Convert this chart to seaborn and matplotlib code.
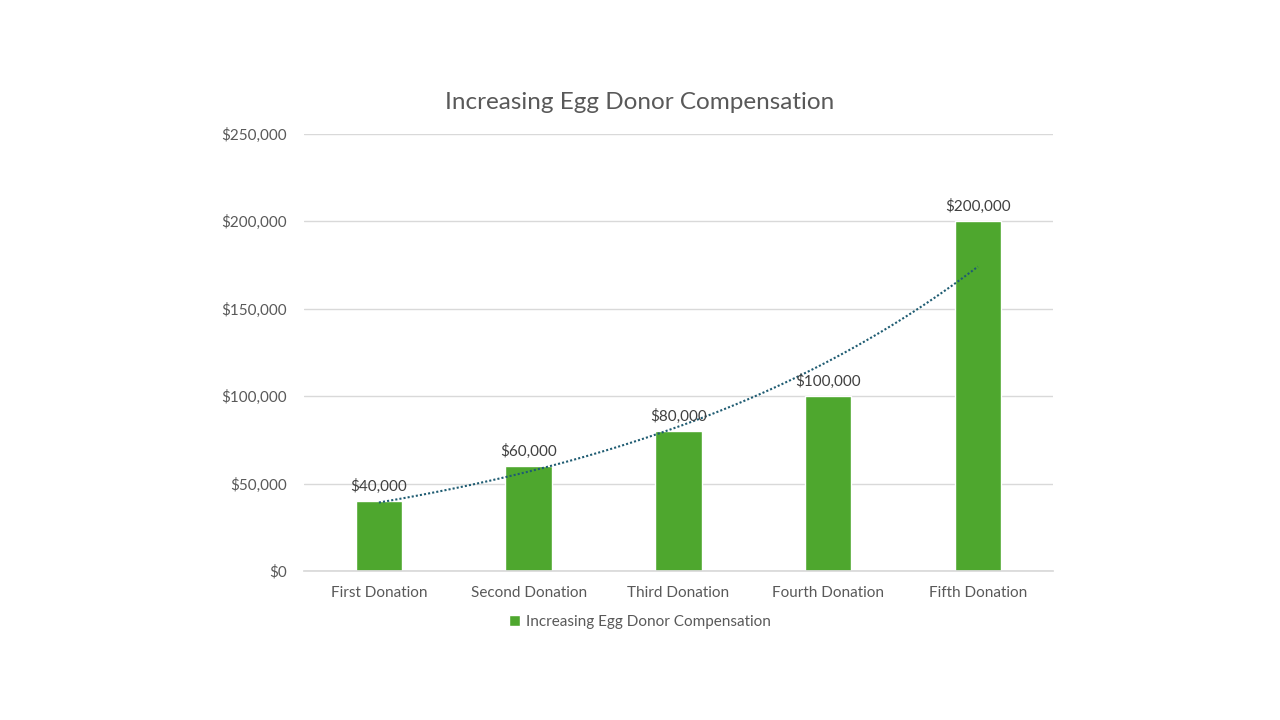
import numpy as np
import pandas as pd
import matplotlib
matplotlib.use("Agg")
import matplotlib.pyplot as plt
import seaborn as sns

categories = ["First Donation", "Second Donation", "Third Donation", "Fourth Donation", "Fifth Donation"]
compensation = [40000, 60000, 80000, 100000, 200000]
series_name = "Increasing Egg Donor Compensation"
y_ticks = [0, 50000, 100000, 150000, 200000, 250000]

BAR_COLOR = "#4EA72E"
TREND_COLOR = "#1F5C72"
TEXT_COLOR = "#595959"
GRID_COLOR = "#D9D9D9"

sns.set_theme(style="white")
plt.rcParams["font.family"] = ["Lato", "DejaVu Sans"]

df = pd.DataFrame({"Donation": categories, "Compensation": compensation})

fig = plt.figure(figsize=(12.8, 7.2), dpi=100)
ax = fig.add_axes([0.2375, 0.207, 0.585, 0.607])

sns.barplot(data=df, x="Donation", y="Compensation", color=BAR_COLOR,
            width=0.31, saturation=1, ax=ax, label=series_name, zorder=2)

# exponential trendline (least squares on log values, like Excel)
xs = np.arange(len(compensation))
b, a = np.polyfit(xs + 1, np.log(compensation), 1)
xt = np.linspace(0, len(compensation) - 1, 100)
ax.plot(xt, np.exp(a + b * (xt + 1)), linestyle=(0, (1, 1)), color=TREND_COLOR,
        linewidth=1.5, zorder=3)

for i, v in enumerate(compensation):
    ax.text(i, v + 4000, f"${v:,.0f}", ha="center", va="bottom",
            fontsize=11, color="#404040", zorder=4)

ax.set_ylim(0, 250000)
ax.set_xlim(-0.5, len(categories) - 0.5)
ax.set_yticks(y_ticks)
ax.set_yticklabels([f"${t:,.0f}" for t in y_ticks])
ax.yaxis.grid(True, color=GRID_COLOR, linewidth=1, zorder=0)
ax.set_axisbelow(True)
for s in ["top", "right", "left"]:
    ax.spines[s].set_visible(False)
ax.spines["bottom"].set_color(GRID_COLOR)
ax.tick_params(axis="both", length=0, labelsize=11, labelcolor=TEXT_COLOR)
ax.tick_params(axis="x", pad=10.5)
ax.tick_params(axis="y", pad=12)
ax.set_xlabel("")
ax.set_ylabel("")

fig.text(0.5, 0.857, series_name, ha="center", va="center", fontsize=17.5, color=TEXT_COLOR)

handles, labels = ax.get_legend_handles_labels()
leg = fig.legend(handles, labels, loc="center", bbox_to_anchor=(0.5, 0.136), frameon=False,
                 fontsize=11, handlelength=0.7, handleheight=0.7, handletextpad=0.4)
for t in leg.get_texts():
    t.set_color(TEXT_COLOR)
if ax.get_legend() is not None:
    ax.get_legend().remove()

fig.savefig("out.png", dpi=100)
